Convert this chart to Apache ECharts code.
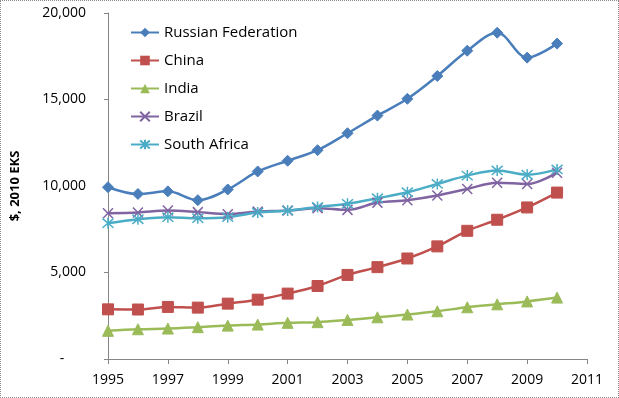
<!DOCTYPE html>
<html>
<head>
<meta charset="utf-8">
<script src="https://cdn.jsdelivr.net/npm/echarts@6/dist/echarts.min.js"></script>
<style>
  html, body { margin: 0; padding: 0; background: #fff; }
  #chart { width: 617px; height: 396px; border: 1px dotted #8c8c8c; }
</style>
</head>
<body>
<div id="chart"></div>
<script>
// data
const years = [1995, 1996, 1997, 1998, 1999, 2000, 2001, 2002, 2003, 2004, 2005, 2006, 2007, 2008, 2009, 2010]
const russia = [9930, 9540, 9690, 9180, 9800, 10840, 11460, 12070, 13050, 14070, 15040, 16360, 17820, 18860, 17420, 18230]
const china = [2870, 2860, 3010, 2970, 3200, 3430, 3780, 4220, 4860, 5310, 5810, 6510, 7410, 8050, 8760, 9620]
const india = [1630, 1720, 1760, 1840, 1930, 1990, 2090, 2130, 2260, 2410, 2570, 2760, 2990, 3160, 3330, 3550]
const brazil = [8430, 8470, 8580, 8490, 8370, 8520, 8580, 8720, 8620, 9040, 9180, 9450, 9830, 10190, 10120, 10770]
const southAfrica = [7850, 8080, 8200, 8140, 8200, 8470, 8580, 8790, 8970, 9290, 9640, 10120, 10600, 10900, 10650, 10960]

const pair = arr => arr.map((v, i) => [years[i], v])

const xMark = 'path://M0,0L10,10M10,0L0,10'
const starMark = 'path://M0,0L10,10M10,0L0,10M5,-1L5,11'

function mk (name, data, color, symbol, size, hollow) {
  return {
    name: name,
    type: 'line',
    smooth: 0.35,
    data: pair(data),
    symbol: symbol,
    symbolSize: size,
    lineStyle: { color: color, width: 2.5 },
    itemStyle: hollow
      ? { color: 'rgba(0,0,0,0)', borderColor: color, borderWidth: 1.5 }
      : { color: color, borderColor: color },
    emphasis: { disabled: true }
  }
}

const option = {
  animation: false,
  textStyle: { fontFamily: 'Open Sans', color: '#000' },
  grid: { left: 105, right: 31, top: 12, bottom: 38 },
  legend: {
    orient: 'vertical',
    left: 124,
    top: 19,
    itemWidth: 28,
    itemHeight: 12,
    itemGap: 13,
    textStyle: { fontSize: 15, color: '#000', fontFamily: 'Open Sans' },
    data: ['Russian Federation', 'China', 'India', 'Brazil', 'South Africa']
  },
  xAxis: {
    type: 'value',
    min: 1995,
    max: 2011,
    interval: 2,
    axisLine: { lineStyle: { color: '#868686' } },
    axisTick: { lineStyle: { color: '#868686' }, length: 5 },
    splitLine: { show: false },
    axisLabel: { fontSize: 14, color: '#000', margin: 14, formatter: v => String(v) }
  },
  yAxis: {
    type: 'value',
    min: 0,
    max: 20000,
    interval: 5000,
    name: '$, 2010 EKS',
    nameLocation: 'middle',
    nameGap: 86,
    nameTextStyle: { fontSize: 13, fontWeight: 'bold', color: '#000' },
    axisLine: { show: true, lineStyle: { color: '#868686' } },
    axisTick: { show: true, lineStyle: { color: '#868686' }, length: 4 },
    splitLine: { show: false },
    axisLabel: {
      fontSize: 14,
      color: '#000',
      margin: 22,
      formatter: v => v === 0 ? '-      ' : v.toLocaleString('en-US')
    }
  },
  series: [
    mk('Russian Federation', russia, '#4a7ebb', 'diamond', 11, false),
    mk('China', china, '#c0504d', 'rect', 11, false),
    mk('India', india, '#9bbb59', 'triangle', 11, false),
    mk('Brazil', brazil, '#8064a2', xMark, 10, true),
    mk('South Africa', southAfrica, '#4bacc6', starMark, 11, true)
  ]
}

const myChart = echarts.init(document.getElementById('chart'))
myChart.setOption(option)
</script>
</body>
</html>
